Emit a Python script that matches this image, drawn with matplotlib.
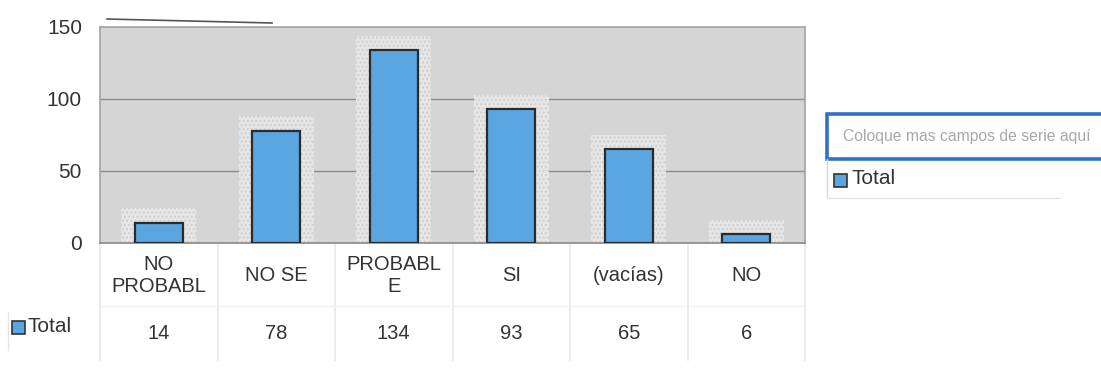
import matplotlib
matplotlib.use("Agg")
import matplotlib.pyplot as plt
import matplotlib.patches as patches
import matplotlib.transforms as mtransforms
import numpy as np

plt.rcParams['font.family'] = ['Liberation Sans', 'DejaVu Sans']

categories = ["NO\nPROBABL", "NO SE", "PROBABL\nE", "SI", "(vacías)", "NO"]
totals = [14, 78, 134, 93, 65, 6]
yticks = [0, 50, 100, 150]
series_name = "Total"
drop_hint = "Coloque mas campos de serie aquí"

BAR_BLUE = "#5ba6e0"
PLOT_GRAY = "#d5d5d5"
TEXT = "#333333"

W, H = 1101, 370
fig = plt.figure(figsize=(W / 100, H / 100), dpi=100)

def fx(px):
    return px / W

def fy(py):
    return 1 - py / H

# plot area
left, right, top, bottom = 100, 805, 27, 243
ax = fig.add_axes([fx(left), fy(bottom), fx(right - left), (bottom - top) / H])
ax.set_facecolor(PLOT_GRAY)
x = np.arange(len(categories))
ax.set_xlim(-0.5, len(categories) - 0.5)
ax.set_ylim(0, 150)

for v in yticks[1:-1]:
    ax.axhline(v, color="#8c8c8c", lw=1.0, zorder=1)

# dotted halo behind each bar
ax.bar(x, np.array(totals) + 10, width=0.64, color="#e6e6e6",
       edgecolor="#cfcfcf", hatch="....", lw=0, zorder=2)
ax.bar(x, totals, width=0.41, color=BAR_BLUE, edgecolor="#2b2b2b",
       lw=1.6, zorder=3)

ax.set_xticks([])
ax.set_yticks(yticks)
ax.tick_params(axis="y", length=0, pad=13, labelsize=15, labelcolor=TEXT)
for s in ax.spines.values():
    s.set_color("#a3a3a3")
    s.set_linewidth(1.2)
ax.spines["bottom"].set_color("#888888")

# stray rule above the chart
fig.add_artist(plt.Line2D([fx(107), fx(272)], [fy(19), fy(23)],
                          color="#555555", lw=1.2))

# data table under the axis
trans = mtransforms.blended_transform_factory(ax.transData, ax.transAxes)
for i, (cat, val) in enumerate(zip(categories, totals)):
    ax.text(i, -0.15, cat, transform=trans, ha="center", va="center",
            fontsize=14.5, color=TEXT, linespacing=1.2, clip_on=False)
    ax.text(i, -0.42, str(val), transform=trans, ha="center", va="center",
            fontsize=14.5, color=TEXT, clip_on=False)
for b in np.arange(-0.5, len(categories), 1.0):
    ax.add_line(plt.Line2D([b, b], [-0.01, -0.54], transform=trans,
                           color="#e8e8e8", lw=1.2, clip_on=False))
ax.add_line(plt.Line2D([-0.5, len(categories) - 0.5], [-0.29, -0.29],
                       transform=trans, color="#f0f0f0", lw=1.0, clip_on=False))

# row header
fig.add_artist(patches.Rectangle((fx(12), fy(334)), fx(13), 13 / H,
                                 facecolor=BAR_BLUE, edgecolor="#333333", lw=1.2))
fig.text(fx(28), fy(326), series_name, fontsize=15, color=TEXT,
         ha="left", va="center")
fig.add_artist(plt.Line2D([fx(8), fx(8)], [fy(312), fy(350)],
                          color="#e4e4e4", lw=1.0))

# series drop zone and legend
fig.add_artist(patches.Rectangle((fx(827), fy(159)), fx(290), 45 / H,
                                 facecolor="white", edgecolor="#2f72c4", lw=2.6))
fig.text(fx(843), fy(136), drop_hint, fontsize=11.3, color="#a8a8a8",
         ha="left", va="center")
fig.add_artist(plt.Line2D([fx(827), fx(827)], [fy(159), fy(198)],
                          color="#d8d8d8", lw=1.0))
fig.add_artist(plt.Line2D([fx(827), fx(1060)], [fy(198), fy(198)],
                          color="#e4e4e4", lw=1.0))
fig.add_artist(patches.Rectangle((fx(834), fy(187)), fx(13), 13 / H,
                                 facecolor=BAR_BLUE, edgecolor="#333333", lw=1.2))
fig.text(fx(851), fy(179), series_name, fontsize=15, color=TEXT,
         ha="left", va="center")

fig.savefig("out.png", dpi=100, facecolor="white")
